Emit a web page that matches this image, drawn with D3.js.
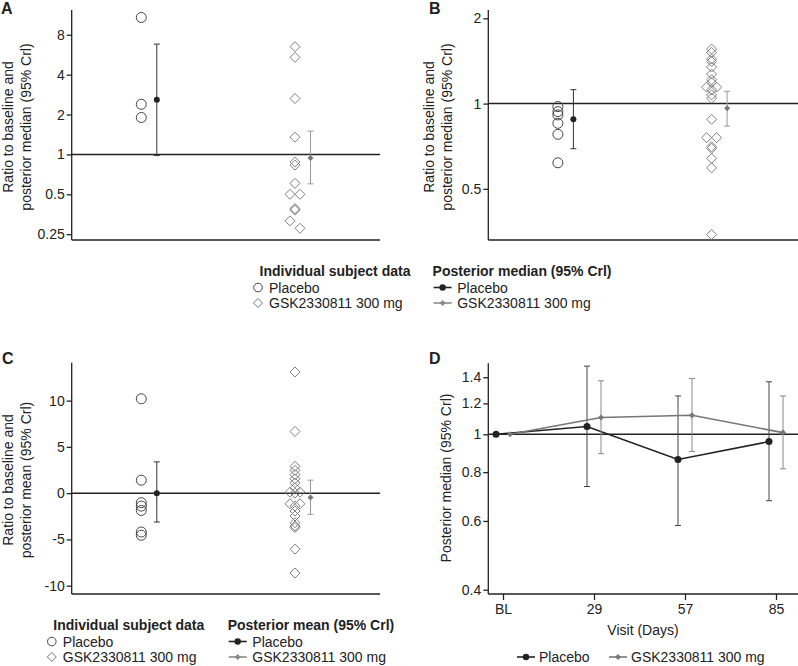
<!DOCTYPE html>
<html><head><meta charset="utf-8">
<script src="https://cdn.jsdelivr.net/npm/d3@7"></script>
<style>
body{margin:0;background:#fff;}
svg text{font-family:"Liberation Sans",Arial,sans-serif;fill:#222;}
</style></head>
<body><svg id="chart" width="798" height="666"></svg>
<script>
// ---------- DATA ----------
const groups = ["Placebo", "GSK2330811 300 mg"];
// Panel A (ratio to baseline, log scale)
const aPlacebo = [10.8, 2.39, 1.9];
const aGsk = [6.5, 5.4, 2.64, 1.35, 0.875, 0.83, 0.605, 0.5, 0.5, 0.39, 0.38, 0.315, 0.277];
const aGskDodge = [0,0,0,0,0,0,0,-1,1,0,0,-1,1];
const aPlaceboMedian = [2.59, 0.98, 6.8];   // median, low, high
const aGskMedian = [0.94, 0.6, 1.5];
const aTicks = [0.25, 0.5, 1, 2, 4, 8];
// Panel B
const bPlacebo = [0.976, 0.937, 0.912, 0.852, 0.779, 0.618];
const bGsk = [1.558, 1.516, 1.436, 1.408, 1.346, 1.271, 1.213, 1.187, 1.143, 1.143, 1.118, 1.073, 1.045, 0.880, 0.758, 0.758, 0.704, 0.695, 0.641, 0.593, 0.345];
const bGskDodge = [0,0,0,0,0,0,0,0,-1,1,0,0,0,0,-1,1,0,0,0,0,0];
const bPlaceboMedian = [0.88, 0.693, 1.12];
const bGskMedian = [0.963, 0.833, 1.105];
const bTicks = [0.5, 1, 2];
// Panel C (linear)
const cPlacebo = [10.2, 1.4, -1.03, -1.4, -1.87, -4.2, -4.55];
const cGsk = [13.1, 6.67, 2.9, 2.47, 2.0, 1.55, 1.11, 0.58, 0.1, 0.0, 0.1, -1.15, -1.15, -1.4, -1.93, -2.47, -3.2, -3.55, -3.72, -6.05, -8.63];
const cGskDodge = [0,0,0,0,0,0,0,0,-1,0,1,-1,1,0,0,0,0,0,0,0,0];
const cPlaceboMean = [0.0, -3.12, 3.38];
const cGskMean = [-0.46, -2.29, 1.4];
const cTicks = [-10, -5, 0, 5, 10];
// Panel D (posterior median over visits)
const visits = ["BL", "29", "57", "85"];
const dPlaceboMedian = [1.0, 1.047, 0.862, 0.958];
const dPlaceboLow = [null, 0.735, 0.584, 0.676];
const dPlaceboHigh = [null, 1.495, 1.254, 1.363];
const dGskMedian = [1.0, 1.104, 1.119, 1.01];
const dGskLow = [null, 0.892, 0.904, 0.816];
const dGskHigh = [null, 1.371, 1.39, 1.254];
const dTicks = [0.4, 0.6, 0.8, 1, 1.2, 1.4];

// ---------- STYLE ----------
const C_AXIS = "#222", C_PLA = "#444", C_GSK = "#808080", C_PLA_M = "#222", C_GSK_M = "#777";
const svg = d3.select("#chart");

function diamond(r){ return `M0,${-r}L${r},0L0,${r}L${-r},0Z`; }

function drawScatterPanel(o){
  const g = svg.append("g");
  const y = o.y;
  const x = d3.scalePoint().domain(groups).range([o.x0 + 69.6, o.x0 + 223.3]);
  // axes
  const yAxis = d3.axisLeft(y).tickValues(o.ticks).tickSize(5).tickFormat(d => String(d));
  const ya = g.append("g").attr("transform", `translate(${o.x0},0)`).call(yAxis);
  ya.select(".domain").attr("d", `M-0,${o.yTop}V${o.yBot}`);
  ya.selectAll("line,path").attr("stroke", C_AXIS).attr("stroke-width", 1.3);
  ya.selectAll("text").attr("font-size", 14).attr("fill", "#222").attr("x", -7);
  g.append("line").attr("x1", o.x0).attr("x2", o.x1).attr("y1", o.yBot).attr("y2", o.yBot)
    .attr("stroke", C_AXIS).attr("stroke-width", 1.5);
  // reference line
  g.append("line").attr("x1", o.x0).attr("x2", o.x1).attr("y1", y(o.ref)).attr("y2", y(o.ref))
    .attr("stroke", C_AXIS).attr("stroke-width", 1.5);
  // individual placebo circles
  g.selectAll("circle.pla").data(o.pla).join("circle").attr("class","pla")
    .attr("cx", x(groups[0])).attr("cy", d => y(d)).attr("r", 5)
    .attr("fill", "none").attr("stroke", C_PLA).attr("stroke-width", 1);
  // individual gsk diamonds
  g.selectAll("path.gsk").data(o.gsk).join("path").attr("class","gsk")
    .attr("transform", (d,i) => `translate(${x(groups[1]) + o.dodge[i]*5},${y(d)})`)
    .attr("d", diamond(5)).attr("fill", "none").attr("stroke", C_GSK).attr("stroke-width", 1);
  // summaries
  const sums = [{v:o.plaSum, gi:0, col:C_PLA_M, bar:"#333"}, {v:o.gskSum, gi:1, col:C_GSK_M, bar:"#999"}];
  sums.forEach(s => {
    const cx = x(groups[s.gi]) + 15.5;
    g.append("line").attr("x1", cx).attr("x2", cx).attr("y1", y(s.v[1])).attr("y2", y(s.v[2]))
      .attr("stroke", s.bar).attr("stroke-width", 1);
    [s.v[1], s.v[2]].forEach(v => g.append("line").attr("x1", cx-3).attr("x2", cx+3)
      .attr("y1", y(v)).attr("y2", y(v)).attr("stroke", s.bar).attr("stroke-width", 1));
    if (s.gi === 0) g.append("circle").attr("cx", cx).attr("cy", y(s.v[0])).attr("r", 3).attr("fill", s.col);
    else g.append("path").attr("transform", `translate(${cx},${y(s.v[0])})`).attr("d", diamond(3)).attr("fill", s.col);
  });
  // panel letter
  g.append("text").attr("x", o.letterX).attr("y", o.letterY).attr("font-size", 16).attr("font-weight", "bold").text(o.letter);
  // y label
  o.ylab.forEach((t, i) => {
    g.append("text").attr("transform", `translate(${o.ylabX[i]},${o.ylabY}) rotate(-90)`)
      .attr("text-anchor", "middle").attr("dominant-baseline", "central").attr("font-size", 14).text(t);
  });
}

const ylabAB = ["Ratio to baseline and", "posterior median (95% Crl)"];
drawScatterPanel({letter:"A", letterX:1, letterY:14, x0:71.7, x1:380, yTop:10, yBot:240,
  y: d3.scaleLog().domain([0.226, 12.3]).range([240, 10]), ticks:aTicks, ref:1,
  pla:aPlacebo, gsk:aGsk, dodge:aGskDodge, plaSum:aPlaceboMedian, gskSum:aGskMedian,
  ylab: ylabAB, ylabX:[8, 26], ylabY:127});
drawScatterPanel({letter:"B", letterX:429, letterY:14, x0:488.3, x1:798, yTop:10, yBot:240,
  y: d3.scaleLog().domain([0.33, 2.14]).range([240, 10]), ticks:bTicks, ref:1,
  pla:bPlacebo, gsk:bGsk, dodge:bGskDodge, plaSum:bPlaceboMedian, gskSum:bGskMedian,
  ylab: ylabAB, ylabX:[429, 447], ylabY:127});
drawScatterPanel({letter:"C", letterX:2, letterY:364, x0:71.7, x1:380, yTop:362.7, yBot:594,
  y: d3.scaleLinear().domain([-10.9, 14.1]).range([594, 362.7]), ticks:cTicks, ref:0,
  pla:cPlacebo, gsk:cGsk, dodge:cGskDodge, plaSum:cPlaceboMean, gskSum:cGskMean,
  ylab: ["Ratio to baseline and", "posterior mean (95% Crl)"], ylabX:[8, 26], ylabY:480});

// ---------- Panel D ----------
(function(){
  const g = svg.append("g");
  const x0 = 488.3, x1 = 798, yTop = 363.3, yBot = 594;
  const y = d3.scaleLog().domain([0.39, 1.52]).range([yBot, yTop]);
  const x = d3.scalePoint().domain(visits).range([503, 776]);
  const ya = g.append("g").attr("transform", `translate(${x0},0)`)
    .call(d3.axisLeft(y).tickValues(dTicks).tickSize(5).tickFormat(d => String(d)));
  ya.select(".domain").attr("d", `M-0,${yTop}V${yBot}`);
  ya.selectAll("line,path").attr("stroke", C_AXIS).attr("stroke-width", 1.3);
  ya.selectAll("text").attr("font-size", 14).attr("fill", "#222").attr("x", -7);
  const xa = g.append("g").attr("transform", `translate(0,${yBot})`)
    .call(d3.axisBottom(x).tickSize(6).tickSizeOuter(0));
  xa.select(".domain").attr("d", `M${x0},0H${x1}`);
  xa.selectAll("line,path").attr("stroke", C_AXIS).attr("stroke-width", 1.3);
  xa.selectAll("text").attr("font-size", 14).attr("fill", "#222").attr("y", 10);
  g.append("line").attr("x1", x0).attr("x2", x1).attr("y1", y(1)).attr("y2", y(1))
    .attr("stroke", C_AXIS).attr("stroke-width", 1.5);
  const series = [
    {med:dPlaceboMedian, lo:dPlaceboLow, hi:dPlaceboHigh, dx:-7, line:"#222", bar:"#444", pla:true},
    {med:dGskMedian, lo:dGskLow, hi:dGskHigh, dx:7, line:"#777", bar:"#888", pla:false}
  ];
  series.forEach(s => {
    const pts = visits.map((v,i) => ({x: x(v) + s.dx, m: s.med[i], lo: s.lo[i], hi: s.hi[i]}));
    pts.filter(p => p.lo != null).forEach(p => {
      g.append("line").attr("x1", p.x).attr("x2", p.x).attr("y1", y(p.lo)).attr("y2", y(p.hi))
        .attr("stroke", s.bar).attr("stroke-width", 1);
      [p.lo, p.hi].forEach(v => g.append("line").attr("x1", p.x-3).attr("x2", p.x+3)
        .attr("y1", y(v)).attr("y2", y(v)).attr("stroke", s.bar).attr("stroke-width", 1));
    });
    g.append("path").datum(pts).attr("fill", "none").attr("stroke", s.line).attr("stroke-width", 1.6)
      .attr("d", d3.line().x(p => p.x).y(p => y(p.m)));
    pts.forEach(p => {
      if (s.pla) g.append("circle").attr("cx", p.x).attr("cy", y(p.m)).attr("r", 3.5).attr("fill", s.line);
      else g.append("path").attr("transform", `translate(${p.x},${y(p.m)})`).attr("d", diamond(3)).attr("fill", s.line);
    });
  });
  g.append("text").attr("x", 429).attr("y", 364).attr("font-size", 16).attr("font-weight", "bold").text("D");
  g.append("text").attr("transform", `translate(446,478) rotate(-90)`).attr("text-anchor", "middle")
    .attr("dominant-baseline", "central").attr("font-size", 14).text("Posterior median (95% Crl)");
  g.append("text").attr("x", 643).attr("y", 635).attr("text-anchor", "middle").attr("font-size", 14).text("Visit (Days)");
  // legend D
  const lg = [{x:517, label:groups[0], col:"#222", pla:true}, {x:609, label:groups[1], col:"#777", pla:false}];
  lg.forEach(l => {
    const yy = 657;
    g.append("line").attr("x1", l.x).attr("x2", l.x+18).attr("y1", yy).attr("y2", yy).attr("stroke", l.col).attr("stroke-width", 1.6);
    if (l.pla) g.append("circle").attr("cx", l.x+9).attr("cy", yy).attr("r", 3.2).attr("fill", l.col);
    else g.append("path").attr("transform", `translate(${l.x+9},${yy})`).attr("d", diamond(3)).attr("fill", l.col);
    g.append("text").attr("x", l.x+22).attr("y", yy+5).attr("font-size", 14).text(l.label);
  });
})();

// ---------- Legends for A/B and C ----------
function legend(lx, rx, ty, rightTitle){
  const g = svg.append("g");
  g.append("text").attr("x", lx).attr("y", ty).attr("font-size", 14).attr("font-weight", "bold").text("Individual subject data");
  g.append("text").attr("x", rx).attr("y", ty).attr("font-size", 14).attr("font-weight", "bold").text(rightTitle);
  const rows = [ty + 16.5, ty + 32];
  // left
  g.append("circle").attr("cx", lx-1.5).attr("cy", rows[0]-5).attr("r", 4.3).attr("fill","none").attr("stroke", "#444");
  g.append("path").attr("transform", `translate(${lx-1.5},${rows[1]-5})`).attr("d", diamond(4.5)).attr("fill","none").attr("stroke", "#777");
  g.append("text").attr("x", lx+9.5).attr("y", rows[0]).attr("font-size", 14).text(groups[0]);
  g.append("text").attr("x", lx+9.5).attr("y", rows[1]).attr("font-size", 14).text(groups[1]);
  // right
  [{col:"#222", pla:true}, {col:"#888", pla:false}].forEach((s, i) => {
    const yy = rows[i] - 5;
    g.append("line").attr("x1", rx+1).attr("x2", rx+19).attr("y1", yy).attr("y2", yy).attr("stroke", s.col).attr("stroke-width", 1.6);
    if (s.pla) g.append("circle").attr("cx", rx+10).attr("cy", yy).attr("r", 3.2).attr("fill", s.col);
    else g.append("path").attr("transform", `translate(${rx+10},${yy})`).attr("d", diamond(3)).attr("fill", s.col);
    g.append("text").attr("x", rx+24.6).attr("y", rows[i]).attr("font-size", 14).text(groups[i]);
  });
}
legend(259.5, 432.6, 276, "Posterior median (95% Crl)");
legend(53.3, 227.7, 630, "Posterior mean (95% Crl)");
</script></body></html>
